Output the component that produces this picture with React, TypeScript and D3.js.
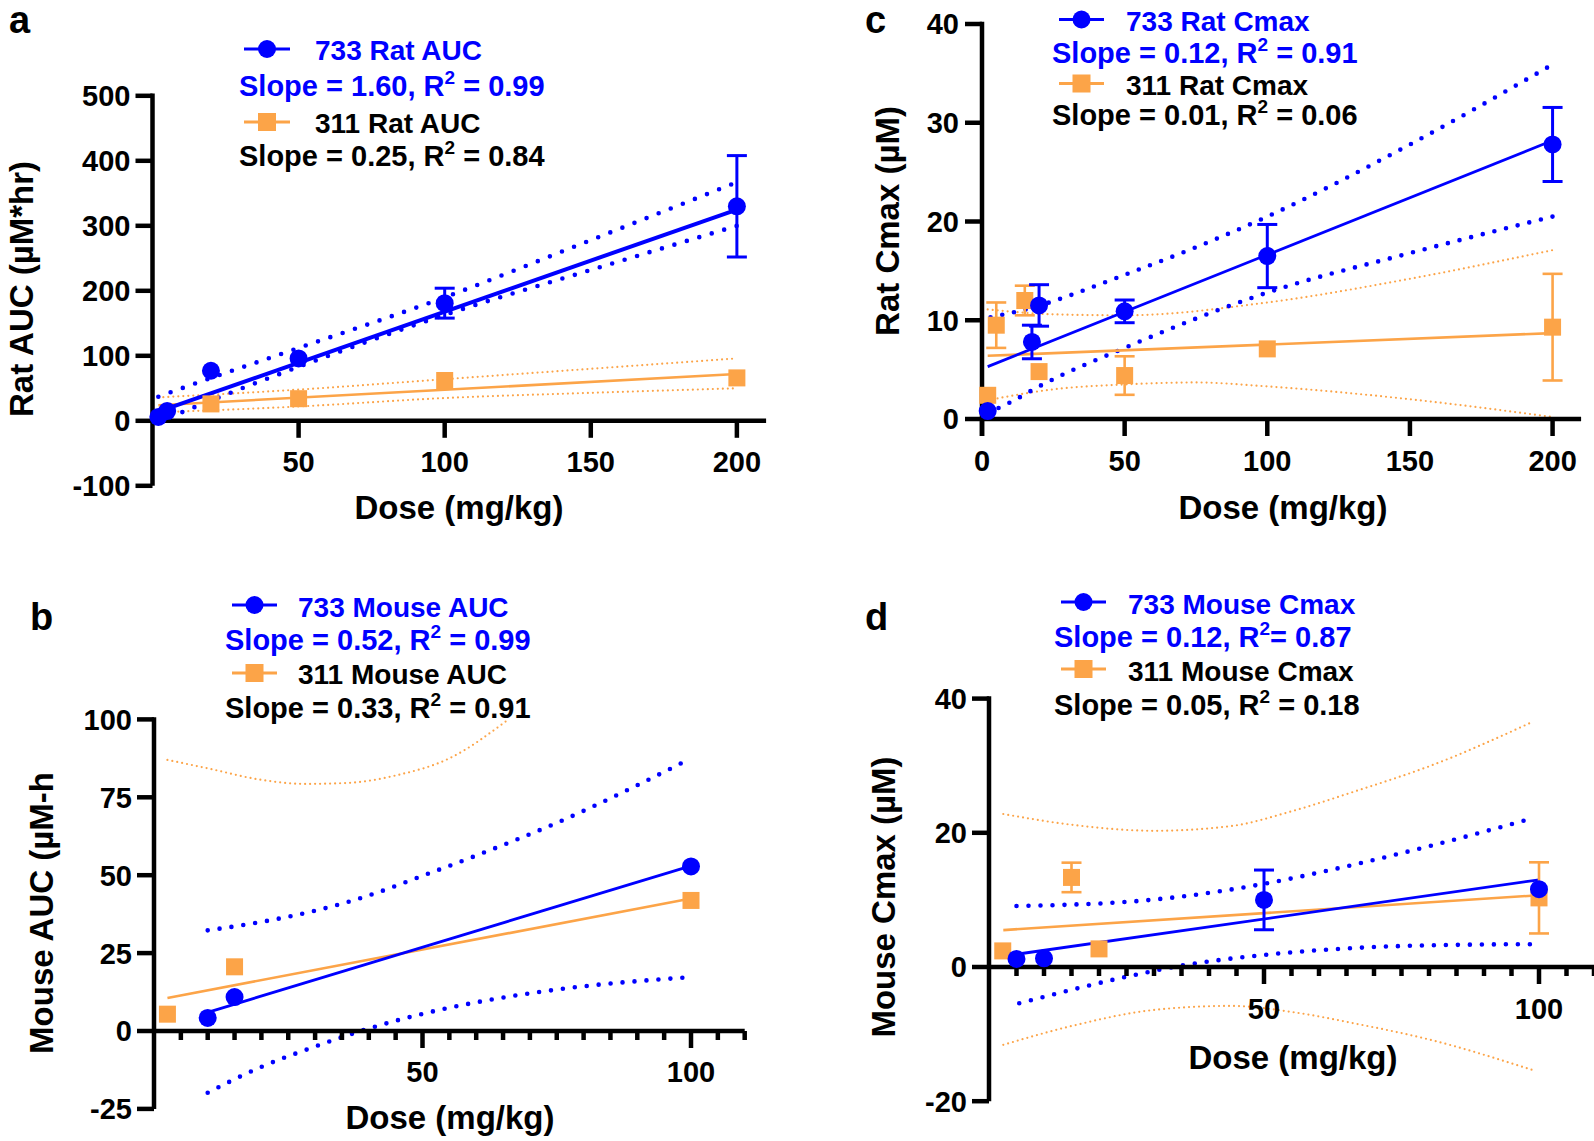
import React from 'react';
import * as d3 from 'd3';

const BLUE = '#0000ff';
const ORANGE = '#fca448';
const FONT = "'Liberation Sans', Arial, Helvetica, sans-serif";

type Pt = [number, number];

// ---------- Panel a : Rat AUC ----------
const aDoses733 = [2, 5, 20, 50, 100, 200];
const aVals733 = [6, 15, 77, 96, 181, 330];
const aErrs733 = [0, 0, 0, 0, 23, 78];
const aDoses311 = [20, 50, 100, 200];
const aVals311 = [26, 34, 62, 66];
const aErrs311 = [0, 0, 0, 0];
const aFit733: Pt[] = [[2, 14], [200, 325]];
const aFit311: Pt[] = [[2, 24], [200, 72]];
const aCiUp733: Pt[] = [[2, 37], [10, 50], [50, 112], [100, 190], [150, 278], [200, 367]];
const aCiLo733: Pt[] = [[2, -2], [10, 13], [50, 83], [100, 163], [150, 232], [200, 300]];
const aCiUp311: Pt[] = [[2, 36], [50, 48], [100, 64], [150, 80], [200, 96]];
const aCiLo311: Pt[] = [[2, 13], [50, 22], [100, 35], [150, 43], [200, 50]];
const aYTicks = [-100, 0, 100, 200, 300, 400, 500];
const aXLabels = [50, 100, 150, 200];

// ---------- Panel c : Rat Cmax ----------
const cDoses733 = [2, 17.5, 20, 50, 100, 200];
const cVals733 = [0.8, 7.8, 11.5, 10.9, 16.5, 27.8];
const cErrs733 = [0, 1.7, 2.1, 1.15, 3.2, 3.75];
const cDoses311 = [2, 5, 15, 20, 50, 100, 200];
const cVals311 = [2.4, 9.5, 12.0, 4.8, 4.4, 7.1, 9.3];
const cErrs311 = [0, 2.3, 1.5, 0, 1.95, 0, 5.4];
const cFit733: Pt[] = [[2, 5.3], [200, 28.2]];
const cFit311: Pt[] = [[2, 6.4], [200, 8.7]];
const cCiUp733: Pt[] = [[3, 10.3], [14, 11], [50, 14.6], [100, 20.5], [150, 27.8], [200, 35.9]];
const cCiLo733: Pt[] = [[2, 0.6], [10, 1.7], [20, 3.3], [50, 7.2], [100, 12.8], [150, 16.8], [200, 20.5]];
const cCiUp311: Pt[] = [[2, 11.1], [25, 10.6], [50, 10.5], [100, 11.8], [150, 14.2], [200, 17.1]];
const cCiLo311: Pt[] = [[2, 1.9], [25, 3.0], [50, 3.5], [75, 3.7], [100, 3.3], [150, 2.0], [200, 0.2]];
const cYTicks = [0, 10, 20, 30, 40];
const cXLabels = [0, 50, 100, 150, 200];

// ---------- Panel b : Mouse AUC ----------
const bDoses733 = [10, 15, 100];
const bVals733 = [4.2, 10.9, 52.8];
const bErrs733 = [0, 0, 0];
const bDoses311 = [2.5, 15, 100];
const bVals311 = [5.4, 20.6, 41.9];
const bErrs311 = [0, 0, 0];
const bFit733: Pt[] = [[10, 6], [100, 53]];
const bFit311: Pt[] = [[2.5, 10.6], [100, 42.5]];
const bCiUp733: Pt[] = [[10, 32.3], [20, 35], [30, 38.6], [40, 43.5], [50, 49.8], [60, 56.3], [75, 66.8], [100, 87.5]];
const bCiLo733: Pt[] = [[10, -19.8], [20, -11.5], [30, -5], [40, 0.8], [50, 5.5], [60, 9.2], [75, 13.3], [100, 17.3]];
const bCiUp311: Pt[] = [[2.5, 87], [10, 84.3], [20, 80.6], [28, 79.3], [36, 79.6], [45, 82], [55, 87.5], [66, 100]];
const bYTicks = [-25, 0, 25, 50, 75, 100];
const bXLabels = [50, 100];

// ---------- Panel d : Mouse Cmax ----------
const dDoses733 = [5, 10, 50, 100];
const dVals733 = [1.2, 1.3, 10, 11.6];
const dErrs733 = [0, 0, 4.45, 0];
const dDoses311 = [2.5, 15, 20, 100];
const dVals311 = [2.4, 13.35, 2.7, 10.3];
const dErrs311 = [0, 2.2, 0, 5.3];
const dFit733: Pt[] = [[5, 1.9], [100, 13]];
const dFit311: Pt[] = [[2.6, 5.5], [100, 10.7]];
const dCiUp733: Pt[] = [[5, 9.1], [15, 9.3], [25, 9.7], [35, 10.5], [50, 12.4], [65, 15], [80, 18], [99, 22.2]];
const dCiLo733: Pt[] = [[5.5, -5.4], [15, -3.4], [25, -1.45], [35, 0.2], [50, 1.8], [68, 2.9], [85, 3.3], [99, 3.4]];
const dCiUp311: Pt[] = [[2.6, 22.8], [15, 21.2], [30, 20.3], [44, 21], [55, 23.2], [67, 26.3], [80, 29.9], [99, 36.6]];
const dCiLo311: Pt[] = [[2.6, -11.6], [15, -8.8], [30, -6.4], [44, -5.8], [55, -6.7], [67, -8.5], [80, -10.8], [99, -15.4]];
const dYTicks = [-20, 0, 20, 40];
const dXLabels = [50, 100];

const minorFive = d3.range(5, 111, 5);

interface Leg {
  symX1: number; symX2: number; y733: number; y311: number;
  textX: number; t733Y: number; t311Y: number;
  slopeX: number; s733Y: number; s311Y: number;
  name733: string; name311: string;
  slope733: [string, string, string]; slope311: [string, string, string];
}

interface Cfg {
  letter: string; letterX: number; letterY: number;
  xDomain: [number, number]; xRange: [number, number];
  yDomain: [number, number]; yRange: [number, number];
  yTicks: number[]; xLabels: number[]; xMajor: number[]; xMinor: number[];
  xLabelY: number; yLabelGap: number;
  xTitle: string; xTitleX: number; xTitleY: number;
  yTitle: string; yTitleX: number; yTitleY: number;
  d733: number[]; v733: number[]; e733: number[];
  d311: number[]; v311: number[]; e311: number[];
  fit733: Pt[]; fit311: Pt[];
  ciUp733: Pt[]; ciLo733: Pt[]; ciUp311?: Pt[]; ciLo311?: Pt[];
  fitW733: number; dotGap: number;
  extendY: number;
  leg: Leg;
}

const AXW = 4.5;
const TICK = 17;

function Panel({ c }: { c: Cfg }) {
  const x = d3.scaleLinear().domain(c.xDomain).range(c.xRange);
  const y = d3.scaleLinear().domain(c.yDomain).range(c.yRange);
  const straight = d3.line<Pt>().x(d => x(d[0])).y(d => y(d[1]));
  const smooth = d3.line<Pt>().x(d => x(d[0])).y(d => y(d[1])).curve(d3.curveMonotoneX);
  const x0 = x(0);
  const y0 = y(0);
  const yTop = y(c.yDomain[1]);
  const yBot = y(c.yDomain[0]);
  const xEnd = x(c.xDomain[1]);
  const L = c.leg;
  const symXc = (L.symX1 + L.symX2) / 2;
  const errBars = (ds: number[], vs: number[], es: number[], col: string, w: number) =>
    ds.map((d, i) => es[i] > 0 ? (
      <g key={'e' + i} stroke={col} strokeWidth={w}>
        <line x1={x(d)} x2={x(d)} y1={y(vs[i] - es[i])} y2={y(vs[i] + es[i])} />
        <line x1={x(d) - 10} x2={x(d) + 10} y1={y(vs[i] - es[i])} y2={y(vs[i] - es[i])} />
        <line x1={x(d) - 10} x2={x(d) + 10} y1={y(vs[i] + es[i])} y2={y(vs[i] + es[i])} />
      </g>
    ) : null);
  const sup = (parts: [string, string, string], col: string, xx: number, yy: number) => (
    <text x={xx} y={yy} fill={col} fontSize={29} fontWeight="bold" fontFamily={FONT}>
      <tspan>{parts[0]}</tspan>
      <tspan dy={-12} fontSize={19}>{parts[1]}</tspan>
      <tspan dy={12}>{parts[2]}</tspan>
    </text>
  );
  return (
    <g>
      <text x={c.letterX} y={c.letterY} fontSize={38} fontWeight="bold" fontFamily={FONT}>{c.letter}</text>
      {/* CI bands */}
      {c.ciUp311 && <path d={smooth(c.ciUp311) || ''} fill="none" stroke={ORANGE} strokeWidth={2.2} strokeDasharray="0 5" strokeLinecap="round" />}
      {c.ciLo311 && <path d={smooth(c.ciLo311) || ''} fill="none" stroke={ORANGE} strokeWidth={2.2} strokeDasharray="0 5" strokeLinecap="round" />}
      <path d={smooth(c.ciUp733) || ''} fill="none" stroke={BLUE} strokeWidth={4.6} strokeDasharray={`0 ${c.dotGap}`} strokeLinecap="round" />
      <path d={smooth(c.ciLo733) || ''} fill="none" stroke={BLUE} strokeWidth={4.6} strokeDasharray={`0 ${c.dotGap}`} strokeLinecap="round" />
      {/* axes */}
      <g stroke="#000" strokeWidth={AXW}>
        <line x1={x0} x2={x0} y1={yTop - AXW / 2} y2={Math.max(yBot, y0 + c.extendY)} />
        <line x1={x0} x2={xEnd} y1={y0} y2={y0} />
        {c.yTicks.map(t => <line key={'yt' + t} x1={x0 - TICK} x2={x0} y1={y(t)} y2={y(t)} />)}
        {c.xMajor.map(t => <line key={'xt' + t} x1={x(t)} x2={x(t)} y1={y0} y2={y0 + TICK} />)}
        {c.xMinor.map(t => <line key={'xm' + t} x1={x(t)} x2={x(t)} y1={y0} y2={y0 + 9} />)}
      </g>
      <g fontFamily={FONT} fontWeight="bold" fontSize={29} fill="#000">
        {c.yTicks.map(t => (
          <text key={'yl' + t} x={x0 - TICK - c.yLabelGap} y={y(t)} dy="0.36em" textAnchor="end">{t}</text>
        ))}
        {c.xLabels.map(t => (
          <text key={'xl' + t} x={x(t)} y={c.xLabelY} textAnchor="middle">{t}</text>
        ))}
      </g>
      <text x={c.xTitleX} y={c.xTitleY} textAnchor="middle" fontFamily={FONT} fontWeight="bold" fontSize={33}>{c.xTitle}</text>
      <text transform={`translate(${c.yTitleX},${c.yTitleY}) rotate(-90)`} textAnchor="middle" fontFamily={FONT} fontWeight="bold" fontSize={33}>{c.yTitle}</text>
      {/* fit lines */}
      <path d={straight(c.fit311) || ''} fill="none" stroke={ORANGE} strokeWidth={2.6} />
      <path d={straight(c.fit733) || ''} fill="none" stroke={BLUE} strokeWidth={c.fitW733} />
      {/* error bars + markers */}
      {errBars(c.d311, c.v311, c.e311, ORANGE, 2.6)}
      {c.d311.map((d, i) => <rect key={'s' + i} x={x(d) - 8.5} y={y(c.v311[i]) - 8.5} width={17} height={17} fill={ORANGE} />)}
      {errBars(c.d733, c.v733, c.e733, BLUE, 3)}
      {c.d733.map((d, i) => <circle key={'c' + i} cx={x(d)} cy={y(c.v733[i])} r={9} fill={BLUE} />)}
      {/* legend */}
      <line x1={L.symX1} x2={L.symX2} y1={L.y733} y2={L.y733} stroke={BLUE} strokeWidth={3.2} />
      <circle cx={symXc} cy={L.y733} r={9} fill={BLUE} />
      <line x1={L.symX1} x2={L.symX2} y1={L.y311} y2={L.y311} stroke={ORANGE} strokeWidth={3.2} />
      <rect x={symXc - 9} y={L.y311 - 9} width={18} height={18} fill={ORANGE} />
      <text x={L.textX} y={L.t733Y} fill={BLUE} fontSize={28} fontWeight="bold" fontFamily={FONT}>{L.name733}</text>
      {sup(L.slope733, BLUE, L.slopeX, L.s733Y)}
      <text x={L.textX} y={L.t311Y} fill="#000" fontSize={28} fontWeight="bold" fontFamily={FONT}>{L.name311}</text>
      {sup(L.slope311, '#000', L.slopeX, L.s311Y)}
    </g>
  );
}

const panelA: Cfg = {
  letter: 'a', letterX: 9, letterY: 33,
  xDomain: [0, 210], xRange: [152.5, 766.1],
  yDomain: [-100, 500], yRange: [485.8, 95.8],
  yTicks: aYTicks, xLabels: aXLabels, xMajor: [50, 100, 150, 200], xMinor: [],
  xLabelY: 472, yLabelGap: 5,
  xTitle: 'Dose (mg/kg)', xTitleX: 459, xTitleY: 519,
  yTitle: 'Rat AUC (\u00b5M*hr)', yTitleX: 33, yTitleY: 289,
  d733: aDoses733, v733: aVals733, e733: aErrs733,
  d311: aDoses311, v311: aVals311, e311: aErrs311,
  fit733: aFit733, fit311: aFit311,
  ciUp733: aCiUp733, ciLo733: aCiLo733, ciUp311: aCiUp311, ciLo311: aCiLo311,
  fitW733: 4, dotGap: 13, extendY: 0,
  leg: {
    symX1: 244, symX2: 290, y733: 49, y311: 122,
    textX: 315, t733Y: 60, t311Y: 133,
    slopeX: 239, s733Y: 96, s311Y: 166,
    name733: '733 Rat AUC', name311: '311 Rat AUC',
    slope733: ['Slope = 1.60, R', '2', ' = 0.99'], slope311: ['Slope = 0.25, R', '2', ' = 0.84'],
  },
};

const panelC: Cfg = {
  letter: 'c', letterX: 865, letterY: 33,
  xDomain: [0, 210], xRange: [982, 1581.1],
  yDomain: [0, 40], yRange: [419, 24],
  yTicks: cYTicks, xLabels: cXLabels, xMajor: [0, 50, 100, 150, 200], xMinor: [],
  xLabelY: 471, yLabelGap: 6,
  xTitle: 'Dose (mg/kg)', xTitleX: 1283, xTitleY: 519,
  yTitle: 'Rat Cmax (\u00b5M)', yTitleX: 899, yTitleY: 221,
  d733: cDoses733, v733: cVals733, e733: cErrs733,
  d311: cDoses311, v311: cVals311, e311: cErrs311,
  fit733: cFit733, fit311: cFit311,
  ciUp733: cCiUp733, ciLo733: cCiLo733, ciUp311: cCiUp311, ciLo311: cCiLo311,
  fitW733: 2.8, dotGap: 12, extendY: 17,
  leg: {
    symX1: 1059, symX2: 1104, y733: 19.5, y311: 83.5,
    textX: 1126, t733Y: 30.5, t311Y: 95,
    slopeX: 1052, s733Y: 63, s311Y: 124.5,
    name733: '733 Rat Cmax', name311: '311 Rat Cmax',
    slope733: ['Slope = 0.12, R', '2', ' = 0.91'], slope311: ['Slope = 0.01, R', '2', ' = 0.06'],
  },
};

const panelB: Cfg = {
  letter: 'b', letterX: 30, letterY: 630,
  xDomain: [0, 110], xRange: [154, 744.7],
  yDomain: [-25, 100], yRange: [1108.9, 719.4],
  yTicks: bYTicks, xLabels: bXLabels, xMajor: [50, 100], xMinor: minorFive.filter(v => v % 50 !== 0),
  xLabelY: 1082, yLabelGap: 5,
  xTitle: 'Dose (mg/kg)', xTitleX: 450, xTitleY: 1129,
  yTitle: 'Mouse AUC (\u00b5M-h', yTitleX: 53, yTitleY: 913,
  d733: bDoses733, v733: bVals733, e733: bErrs733,
  d311: bDoses311, v311: bVals311, e311: bErrs311,
  fit733: bFit733, fit311: bFit311,
  ciUp733: bCiUp733, ciLo733: bCiLo733, ciUp311: bCiUp311,
  fitW733: 2.8, dotGap: 12, extendY: 0,
  leg: {
    symX1: 232, symX2: 277, y733: 605, y311: 673,
    textX: 298, t733Y: 617, t311Y: 684,
    slopeX: 225, s733Y: 650, s311Y: 718,
    name733: '733 Mouse AUC', name311: '311 Mouse AUC',
    slope733: ['Slope = 0.52, R', '2', ' = 0.99'], slope311: ['Slope = 0.33, R', '2', ' = 0.91'],
  },
};

const panelD: Cfg = {
  letter: 'd', letterX: 865, letterY: 630,
  xDomain: [0, 110], xRange: [989, 1594],
  yDomain: [-20, 40], yRange: [1101.2, 698.6],
  yTicks: dYTicks, xLabels: dXLabels, xMajor: [50, 100], xMinor: minorFive.filter(v => v % 50 !== 0),
  xLabelY: 1019, yLabelGap: 5,
  xTitle: 'Dose (mg/kg)', xTitleX: 1293, xTitleY: 1069,
  yTitle: 'Mouse Cmax (\u00b5M)', yTitleX: 895, yTitleY: 897,
  d733: dDoses733, v733: dVals733, e733: dErrs733,
  d311: dDoses311, v311: dVals311, e311: dErrs311,
  fit733: dFit733, fit311: dFit311,
  ciUp733: dCiUp733, ciLo733: dCiLo733, ciUp311: dCiUp311, ciLo311: dCiLo311,
  fitW733: 2.8, dotGap: 12, extendY: 0,
  leg: {
    symX1: 1061, symX2: 1106, y733: 602, y311: 669,
    textX: 1128, t733Y: 614, t311Y: 681,
    slopeX: 1054, s733Y: 647, s311Y: 715,
    name733: '733 Mouse Cmax', name311: '311 Mouse Cmax',
    slope733: ['Slope = 0.12, R', '2', '= 0.87'], slope311: ['Slope = 0.05, R', '2', ' = 0.18'],
  },
};

export default function App() {
  return (
    <svg width={1594} height={1141} style={{ position: 'absolute', left: 0, top: 0, background: '#fff' }}>
      <rect width={1594} height={1141} fill="#fff" />
      <Panel c={panelA} />
      <Panel c={panelC} />
      <Panel c={panelB} />
      <Panel c={panelD} />
    </svg>
  );
}
